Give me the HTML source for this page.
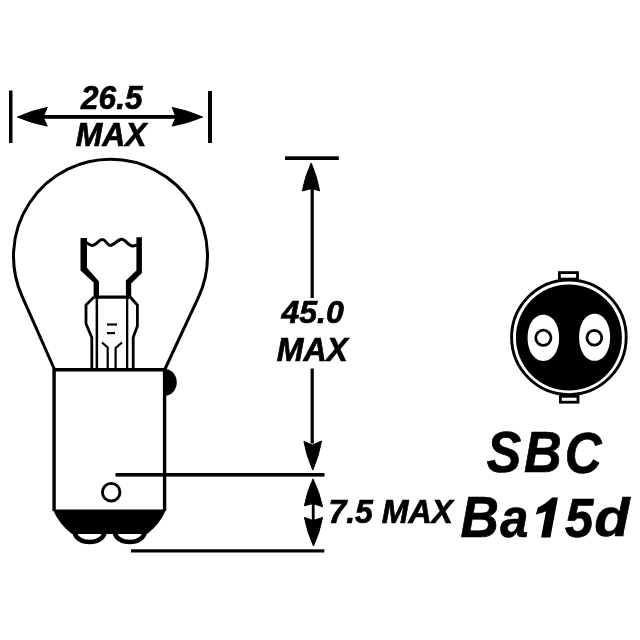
<!DOCTYPE html>
<html><head><meta charset="utf-8">
<style>
html,body{margin:0;padding:0;background:#fff;}
body{width:640px;height:640px;overflow:hidden;}
svg{display:block;will-change:transform;}
.t text{font-family:"Liberation Sans",sans-serif;font-weight:bold;font-style:italic;fill:#000;stroke:#000;stroke-width:0.7px;}
</style></head><body>
<svg width="640" height="640" viewBox="0 0 640 640">
<rect x="0" y="0" width="640" height="640" fill="#fff"/>
<rect x="9" y="90.5" width="3.5" height="52.5"/>
<rect x="208" y="91" width="4" height="52"/>
<rect x="30" y="115" width="160" height="3.8"/>
<path d="M17.4 117 Q31.80 110.49 47.3 107.4 L43 117 L47.3 126.1 Q31.83 123.27 17.4 117 Z" stroke="#000" stroke-width="1" stroke-linejoin="round"/>
<path d="M202.6 117 Q187.94 110.48 172.2 107.4 L176 117 L172.2 126.1 Q187.92 123.27 202.6 117 Z" stroke="#000" stroke-width="1" stroke-linejoin="round"/>
<g class="t"><text x="81.1" y="109.45" font-size="32.41" textLength="61.34" lengthAdjust="spacingAndGlyphs">26.5</text><text x="75.8" y="146.4" font-size="33.48" textLength="70.81" lengthAdjust="spacingAndGlyphs">MAX</text></g>
<path d="M54.3 369 L21.80 295.55 A97.0 97.0 0 1 1 198.42 297.27 L165 369" fill="none" stroke="#000" stroke-width="3" stroke-linejoin="round"/>
<path d="M80.5 238 L87 238 L87 267.7 L99 281.4 L99 298.7 L93.6 298.7 L93.6 282.5 L80.5 270.5 Z"/>
<path d="M136.4 237.3 L141.9 237.3 L141.9 273 L131.2 283.4 L131.2 298.7 L125.9 298.7 L125.9 280.6 L136.4 270.6 Z"/>
<path d="M86 242.3 C89 244.5 90 245.4 92.3 245.4 C96 245.4 99 239.6 102.4 239.6 C106 239.6 107 245.4 110.2 245.4 C114 245.4 118 239.3 121.6 239.3 C125.5 239.3 128.5 246 132.5 246 C134 246 135.5 245.6 137 245" fill="none" stroke="#000" stroke-width="3"/>
<rect x="96" y="295.5" width="33" height="3.2"/>
<rect x="95.6" y="296" width="2.5" height="73"/>
<rect x="126" y="296" width="2.3" height="73"/>
<path d="M94 297 L86 305 L86 323.75 L91.8 337.5 L91.8 369" fill="none" stroke="#000" stroke-width="2.8"/>
<path d="M130.2 297 L137.4 305 L137.4 326 L133.2 337.5 L133.2 369" fill="none" stroke="#000" stroke-width="2.8"/>
<rect x="107" y="323.4" width="10" height="2.2"/>
<rect x="107" y="332" width="8" height="2.2"/>
<path d="M102 342.5 L107.7 347.5 L107.7 369" fill="none" stroke="#000" stroke-width="2.2"/>
<path d="M122 342.5 L115.6 348 L115.6 369" fill="none" stroke="#000" stroke-width="2.2"/>
<path d="M54.1 511 L54.1 369.7 L164.6 369.7 L164.6 511" fill="none" stroke="#000" stroke-width="3.4"/>
<path d="M165 369 A11.8 13.3 0 0 1 165 395.6 Z"/>
<circle cx="111.2" cy="492.2" r="8.8" fill="none" stroke="#000" stroke-width="2.9"/>
<path d="M52.8 509.4 L166.2 509.4 A62 62 0 0 1 147 534 L72 534 A62 62 0 0 1 52.8 509.4 Z"/>
<path d="M74.8 532 A14.8 10 0 0 0 104.4 532" fill="none" stroke="#000" stroke-width="4.6"/>
<path d="M114.9 532 A14.8 10 0 0 0 144.5 532" fill="none" stroke="#000" stroke-width="4.6"/>
<rect x="115.5" y="473" width="209" height="3.6"/>
<rect x="131" y="549.3" width="193.3" height="3.2"/>
<rect x="285" y="156.3" width="53.8" height="3.7"/>
<rect x="310.6" y="185" width="3.2" height="113"/>
<rect x="310.6" y="368.5" width="3.2" height="75"/>
<path d="M311.2 163 Q305.04 176.40 302.3 190.9 L312 188.5 L319.6 190.9 Q317.12 176.43 311.2 163 Z" stroke="#000" stroke-width="1" stroke-linejoin="round"/>
<path d="M312.8 470.1 Q306.63 456.28 303.9 441.4 L312.3 445 L321.5 441 Q318.87 456.07 312.8 470.1 Z" stroke="#000" stroke-width="1" stroke-linejoin="round"/>
<g class="t"><text x="281.5" y="323.25" font-size="31.87" textLength="62.32" lengthAdjust="spacingAndGlyphs">45.0</text><text x="276.75" y="360.7" font-size="32.99" textLength="71.05" lengthAdjust="spacingAndGlyphs">MAX</text></g>
<path d="M313 478.9 Q306.99 491.80 304.4 505.8 L313 503.6 L322.6 506.8 Q319.50 492.26 313 478.9 Z" stroke="#000" stroke-width="1" stroke-linejoin="round"/>
<rect x="311.8" y="500" width="2.8" height="20"/>
<path d="M313.5 546.1 Q307.23 532.29 304.4 517.4 L313 520.6 L322.6 517.4 Q319.77 532.29 313.5 546.1 Z" stroke="#000" stroke-width="1" stroke-linejoin="round"/>
<g class="t"><text x="328.4" y="522.55" font-size="32.56" textLength="124.6" lengthAdjust="spacingAndGlyphs">7.5 MAX</text><text x="460.55" y="537.35" font-size="57.65" textLength="38.44" lengthAdjust="spacingAndGlyphs">B</text><text x="500.35" y="537.35" font-size="56.18" textLength="28.15" lengthAdjust="spacingAndGlyphs">a</text><text x="565.05" y="536.75" font-size="55.5" textLength="28.33" lengthAdjust="spacingAndGlyphs">5</text><text x="594.2" y="536.2" font-size="53.0" textLength="35.36" lengthAdjust="spacingAndGlyphs">d</text><text x="486.75" y="472.25" font-size="57.05" textLength="34.51" lengthAdjust="spacingAndGlyphs">S</text><text x="524.0" y="472.25" font-size="56.72" textLength="37.71" lengthAdjust="spacingAndGlyphs">B</text><text x="564.65" y="472.55" font-size="57.67" textLength="36.85" lengthAdjust="spacingAndGlyphs">C</text></g>
<path d="M557.9 497.4 L552 497.4 C548 501.5 543 505 537.9 507.6 L535.8 514.6 C539.5 513.6 543 512.4 546 511.2 L541.1 537.5 L550.4 537.5 Z"/>
<rect x="559.4" y="272.6" width="18.1" height="6.5" fill="none" stroke="#000" stroke-width="2.8"/>
<rect x="560.4" y="396.3" width="17.6" height="5.9" fill="none" stroke="#000" stroke-width="2.8"/>
<circle cx="568.9" cy="337.3" r="57.3" fill="none" stroke="#000" stroke-width="2.9"/>
<circle cx="568.9" cy="337.5" r="53"/>
<path fill="#fff" d="M543.35 314.7 C552.56 314.7 559.1 324.29 559.1 337.8 C559.1 351.31 552.56 360.90000000000003 543.35 360.90000000000003 C534.14 360.90000000000003 527.6 351.31 527.6 337.8 C527.6 324.29 534.14 314.7 543.35 314.7 Z"/>
<path fill="#fff" d="M594.6 313.65 C603.67 313.65 610.1 323.44 610.1 337.25 C610.1 351.06 603.67 360.85 594.6 360.85 C585.53 360.85 579.1 351.06 579.1 337.25 C579.1 323.44 585.53 313.65 594.6 313.65 Z"/>
<circle cx="543.35" cy="337.8" r="7.6" fill="none" stroke="#000" stroke-width="2.8"/>
<circle cx="594.35" cy="337.75" r="7.4" fill="none" stroke="#000" stroke-width="2.8"/>
</svg>
</body></html>
